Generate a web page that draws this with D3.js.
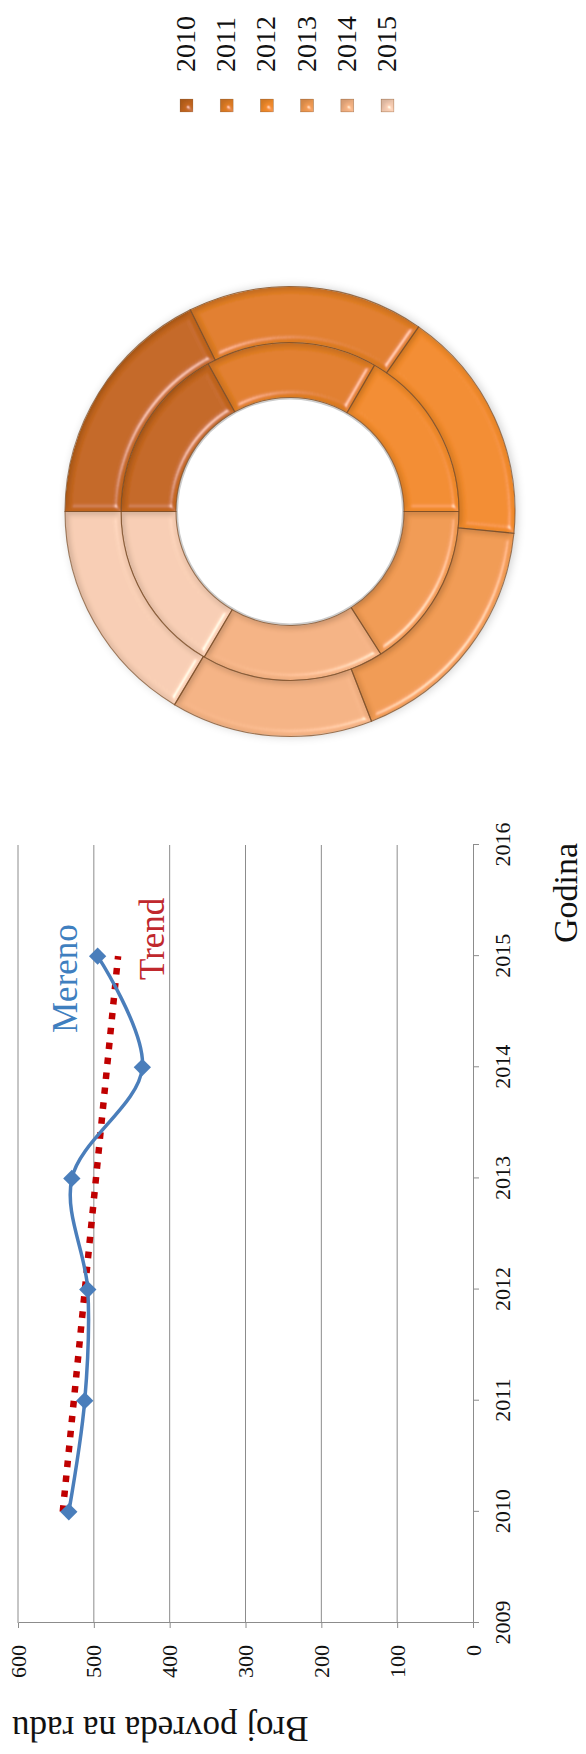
<!DOCTYPE html>
<html>
<head>
<meta charset="utf-8">
<script src="https://cdn.jsdelivr.net/npm/d3@7"></script>
<style>
  html, body { margin: 0; padding: 0; background: #fff; }
  svg { display: block; }
</style>
</head>
<body>
<svg id="chart" width="586" height="1754"></svg>
<script>
// ---------------- DATA ----------------
const years = [2010, 2011, 2012, 2013, 2014, 2015];
const mereno = [533, 512, 508, 529, 436, 495];          // Broj povreda na radu (outer ring too)
const trendYears = [2010, 2015];
const trendValues = [541, 468];
const innerRing = [61, 59, 60, 57.5, 63, 59.5];          // inner doughnut series
const yearTicks = [2009, 2010, 2011, 2012, 2013, 2014, 2015, 2016];
const valueTicks = [0, 100, 200, 300, 400, 500, 600];
const legendLabels = ["2010", "2011", "2012", "2013", "2014", "2015"];
const seriesNames = ["Mereno", "Trend"];
const axisTitles = { x: "Godina", y: "Broj povreda na radu" };

// ---------------- STYLE ----------------
const ringColors = ["#c4661e", "#e07d25", "#f28b2b", "#f09a52", "#f4b283", "#f7cdb3"];
const blue = "#4a7ebb", red = "#c00000", grid = "#8c8c8c";
const serif = "'Liberation Serif', 'Times New Roman', serif";

// ---------------- SETUP ----------------
// The whole chart is laid out in a landscape frame (W x H) and rotated -90deg.
const W = 1754, H = 586;
const svg = d3.select("#chart");
const defs = svg.append("defs");

// bevel filter
const f = defs.append("filter").attr("id", "bevel")
  .attr("x", "-10%").attr("y", "-10%").attr("width", "120%").attr("height", "120%");
f.append("feGaussianBlur").attr("in", "SourceAlpha").attr("stdDeviation", 3).attr("result", "blur");
const spec = f.append("feSpecularLighting").attr("in", "blur").attr("surfaceScale", 5)
  .attr("specularConstant", 0.8).attr("specularExponent", 35)
  .attr("lighting-color", "#ffffff").attr("result", "spec");
spec.append("feDistantLight").attr("azimuth", 135).attr("elevation", 40);
f.append("feComposite").attr("in", "spec").attr("in2", "SourceAlpha").attr("operator", "in").attr("result", "specOut");
const diff = f.append("feDiffuseLighting").attr("in", "blur").attr("surfaceScale", 5)
  .attr("diffuseConstant", 1.1).attr("lighting-color", "#ffffff").attr("result", "diff");
diff.append("feDistantLight").attr("azimuth", 135).attr("elevation", 65);
f.append("feComposite").attr("in", "SourceGraphic").attr("in2", "diff").attr("operator", "arithmetic")
  .attr("k1", 1).attr("k2", 0).attr("k3", 0).attr("k4", 0).attr("result", "lit");
f.append("feComposite").attr("in", "lit").attr("in2", "SourceGraphic").attr("operator", "arithmetic")
  .attr("k1", 0).attr("k2", 0.4).attr("k3", 0.6).attr("k4", 0).attr("result", "mix");
f.append("feComposite").attr("in", "specOut").attr("in2", "mix").attr("operator", "arithmetic")
  .attr("k1", 0).attr("k2", 0.5).attr("k3", 1).attr("k4", 0).attr("result", "all");
f.append("feComposite").attr("in", "all").attr("in2", "SourceAlpha").attr("operator", "in");

// soft shadow for doughnut
const sh = defs.append("filter").attr("id", "shadow")
  .attr("x", "-20%").attr("y", "-20%").attr("width", "140%").attr("height", "140%");
sh.append("feGaussianBlur").attr("in", "SourceAlpha").attr("stdDeviation", 5).attr("result", "b");
sh.append("feOffset").attr("in", "b").attr("dx", 0).attr("dy", 2).attr("result", "o");
sh.append("feComponentTransfer").attr("in", "o").append("feFuncA").attr("type", "linear").attr("slope", 0.2);

const root = svg.append("g").attr("transform", `translate(0,${W}) rotate(-90)`);

// ---------------- LINE CHART ----------------
const x = d3.scaleLinear().domain([2009, 2016]).range([131, 909]);
const y = d3.scaleLinear().domain([0, 600]).range([473, 18]);

const plot = root.append("g");

// gridlines
plot.append("g").selectAll("line").data(valueTicks.filter(v => v > 0)).join("line")
  .attr("x1", x(2009)).attr("x2", x(2016))
  .attr("y1", d => y(d)).attr("y2", d => y(d))
  .attr("stroke", grid).attr("stroke-width", 1);

// value axis (left in landscape frame)
const yAxis = plot.append("g").attr("transform", `translate(${x(2009)},0)`)
  .call(d3.axisLeft(y).tickValues(valueTicks).tickSize(5).tickSizeOuter(0).tickPadding(17));
yAxis.select(".domain").attr("stroke", grid);
yAxis.selectAll(".tick line").attr("stroke", grid);
yAxis.selectAll(".tick text").attr("font-family", serif).attr("font-size", 22).attr("fill", "#111");

// category axis (bottom in landscape frame)
const xAxis = plot.append("g").attr("transform", `translate(0,${y(0)})`)
  .call(d3.axisBottom(x).tickValues(yearTicks).tickFormat(d3.format("d")).tickSize(6).tickSizeOuter(0).tickPadding(15));
xAxis.select(".domain").attr("stroke", grid);
xAxis.selectAll(".tick line").attr("stroke", grid);
xAxis.selectAll(".tick text").attr("font-family", serif).attr("font-size", 22).attr("fill", "#111");

// trend line
plot.append("path")
  .datum(trendYears.map((t, i) => [t, trendValues[i]]))
  .attr("d", d3.line().x(d => x(d[0])).y(d => y(d[1])))
  .attr("fill", "none").attr("stroke", red).attr("stroke-width", 6.5)
  .attr("stroke-dasharray", "6.5 8.5");

// measured line
const pts = years.map((t, i) => [t, mereno[i]]);
plot.append("path").datum(pts)
  .attr("d", d3.line().x(d => x(d[0])).y(d => y(d[1])).curve(d3.curveCatmullRom.alpha(0.5)))
  .attr("fill", "none").attr("stroke", blue).attr("stroke-width", 3.5);

plot.append("g").selectAll("path").data(pts).join("path")
  .attr("d", d3.symbol(d3.symbolSquare, 150)())
  .attr("transform", d => `translate(${x(d[0])},${y(d[1])}) rotate(45)`)
  .attr("fill", blue);

// series labels
plot.append("text").attr("x", 721).attr("y", 77).text(seriesNames[0])
  .attr("font-family", serif).attr("font-size", 35).attr("fill", "#3f7fbf");
plot.append("text").attr("x", 774).attr("y", 164).text(seriesNames[1])
  .attr("font-family", serif).attr("font-size", 35).attr("fill", "#c0282d");

// axis titles
plot.append("text").attr("x", 911).attr("y", 577).attr("text-anchor", "end").text(axisTitles.x)
  .attr("font-family", serif).attr("font-size", 34).attr("fill", "#111");
plot.append("text").attr("transform", "translate(37,12) rotate(-90)").attr("text-anchor", "end")
  .text(axisTitles.y).attr("font-family", serif).attr("font-size", 35).attr("fill", "#111");

// ---------------- DOUGHNUT ----------------
const cx = 1242.5, cy = 290;
const rInner = 114, rMid = 169, rOuter = 225;
const pie = d3.pie().sort(null).value(d => d);
const donut = root.append("g").attr("transform", `translate(${cx},${cy})`);

donut.append("circle").attr("r", rOuter).attr("fill", "#000").attr("filter", "url(#shadow)");
donut.append("circle").attr("r", rInner - 2).attr("fill", "#fff");

const rings = [
  { data: innerRing, r0: rInner, r1: rMid },
  { data: mereno, r0: rMid, r1: rOuter }
];
rings.forEach(ring => {
  const arc = d3.arc().innerRadius(ring.r0).outerRadius(ring.r1);
  donut.append("g").selectAll("path").data(pie(ring.data)).join("path")
    .attr("d", arc)
    .attr("fill", (d, i) => ringColors[i])
    .attr("filter", "url(#bevel)");
  donut.append("g").selectAll("path").data(pie(ring.data)).join("path")
    .attr("d", arc)
    .attr("fill", "none").attr("stroke", "#7a4a22").attr("stroke-opacity", 0.7).attr("stroke-width", 1.1);
});

// ---------------- LEGEND ----------------
const legendPos = d3.scalePoint().domain(legendLabels).range([186, 387]);
const legend = root.append("g");
legend.selectAll("rect").data(legendLabels).join("rect")
  .attr("x", 1642).attr("y", d => legendPos(d) - 6).attr("width", 13).attr("height", 13)
  .attr("fill", (d, i) => ringColors[i]).attr("stroke", "#9a6a40").attr("stroke-width", 0.6)
  .attr("filter", "url(#bevel)");
legend.selectAll("text").data(legendLabels).join("text")
  .attr("x", 1682).attr("y", d => legendPos(d) + 9).text(d => d)
  .attr("font-family", serif).attr("font-size", 28).attr("fill", "#111");
</script>
</body>
</html>
